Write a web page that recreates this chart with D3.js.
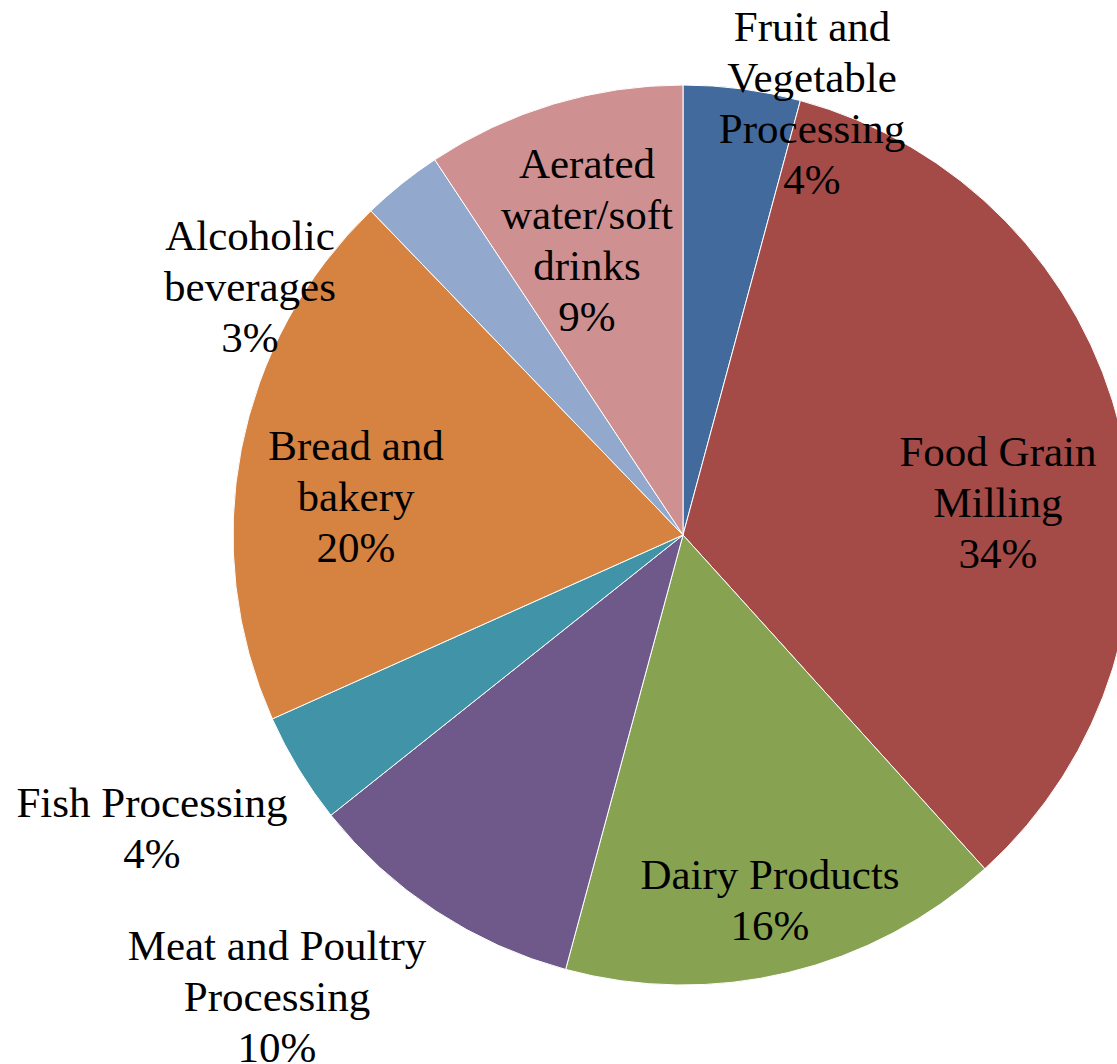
<!DOCTYPE html>
<html>
<head>
<meta charset="utf-8">
<script src="https://cdn.jsdelivr.net/npm/d3@7"></script>
<style>
  html, body { margin: 0; padding: 0; background: #fff; }
  svg { display: block; }
</style>
</head>
<body>
<svg id="chart" width="1117" height="1064"></svg>
<script>
// ---- data ----
const categories = [
  "Fruit and Vegetable Processing",
  "Food Grain Milling",
  "Dairy Products",
  "Meat and Poultry Processing",
  "Fish Processing",
  "Bread and bakery",
  "Alcoholic beverages",
  "Aerated water/soft drinks"
];
const values = [4.2, 34.1, 15.9, 10.1, 4.0, 19.5, 2.9, 9.3];
const percentLabels = ["4%", "34%", "16%", "10%", "4%", "20%", "3%", "9%"];
const labelLines = [
  ["Fruit and", "Vegetable", "Processing"],
  ["Food Grain", "Milling"],
  ["Dairy Products"],
  ["Meat and Poultry", "Processing"],
  ["Fish Processing"],
  ["Bread and", "bakery"],
  ["Alcoholic", "beverages"],
  ["Aerated", "water/soft", "drinks"]
];

// ---- layout / style ----
const colors = ["#436A9C", "#A44A47", "#87A352", "#6F588A", "#4193A7", "#D68240", "#92A8CD", "#CE9090"];
const labelCenters = [
  [812, 103], [998, 503], [770, 900], [277, 997],
  [152, 828], [356, 497], [250, 287], [587, 240]
];
const cx = 683, cy = 535, radius = 450;
const fontSize = 43, lineHeight = 51;

const svg = d3.select("#chart");
const g = svg.append("g").attr("transform", `translate(${cx},${cy})`);

const data = categories.map((c, i) => ({ name: c, value: values[i], i }));
const pie = d3.pie().value(d => d.value).sort(null);
const arc = d3.arc().innerRadius(0).outerRadius(radius);

g.selectAll("path")
  .data(pie(data))
  .join("path")
  .attr("d", arc)
  .attr("fill", d => colors[d.data.i])
  .attr("stroke", "#ffffff")
  .attr("stroke-width", 1);

const labels = svg.append("g")
  .attr("font-family", "'Liberation Serif', 'Times New Roman', serif")
  .attr("font-size", fontSize)
  .attr("fill", "#000")
  .attr("text-anchor", "middle");

data.forEach((d, i) => {
  const lines = labelLines[i].concat([percentLabels[i]]);
  const [lx, ly] = labelCenters[i];
  const firstCenter = ly - (lines.length - 1) / 2 * lineHeight;
  const t = labels.append("text");
  lines.forEach((ln, k) => {
    t.append("tspan")
      .attr("x", lx)
      .attr("y", firstCenter + k * lineHeight + 0.33 * fontSize)
      .text(ln);
  });
});
</script>
</body>
</html>
